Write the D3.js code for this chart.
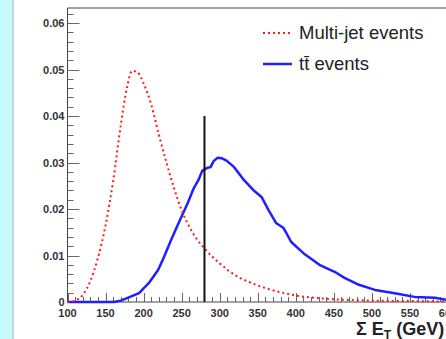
<!DOCTYPE html>
<html>
<head>
<meta charset="utf-8">
<script src="https://cdn.jsdelivr.net/npm/d3@7"></script>
<style>
  html, body { margin: 0; padding: 0; background: #fff; }
  svg { display: block; }
</style>
</head>
<body>
<div id="chart"></div>
<script>
// multi-jet (QCD) background shape
const multiJetX = [100, 110, 120, 130, 140, 150, 160, 170, 178, 185, 192, 200, 210, 220, 230, 240, 250, 260, 270, 280, 290, 300, 320, 340, 360, 380, 400, 425, 450, 500, 550, 600];
const multiJetY = [0, 0.0003, 0.0015, 0.0045, 0.0095, 0.0165, 0.026, 0.038, 0.046, 0.0497, 0.0494, 0.047, 0.0425, 0.036, 0.030, 0.0245, 0.0197, 0.0162, 0.0135, 0.0115, 0.0098, 0.0083, 0.0058, 0.0042, 0.0030, 0.0021, 0.0014, 0.0009, 0.0006, 0.0003, 0.0002, 0.0001];

// ttbar signal shape
const ttbarX = [100, 130, 161, 170, 179, 194, 207, 219, 225, 236, 246, 258, 266, 272, 277, 283, 288, 292, 297, 303, 309, 319, 332, 344, 355, 364, 374, 384, 394, 410, 431, 451, 464, 483, 504, 530, 556, 583, 600];
const ttbarY = [0, 0, 0, 0.0003, 0.0009, 0.0019, 0.0041, 0.0069, 0.009, 0.0133, 0.017, 0.0213, 0.0245, 0.0262, 0.0282, 0.0288, 0.029, 0.0303, 0.031, 0.0309, 0.0304, 0.029, 0.0262, 0.0241, 0.0226, 0.0198, 0.017, 0.0159, 0.0129, 0.0105, 0.008, 0.0065, 0.0052, 0.0037, 0.0026, 0.0019, 0.0011, 0.0009, 0.0004];

const cutValue = 280;
const cutHeight = 0.04;

const xTicks = [100, 150, 200, 250, 300, 350, 400, 450, 500, 550, 600];
const yTicks = [0, 0.01, 0.02, 0.03, 0.04, 0.05, 0.06];

const legendLabels = ["Multi-jet events", "t\u0074\u0304 events"];

const width = 446, height = 339;

const svg = d3.select("#chart").append("svg")
    .attr("width", width)
    .attr("height", height);

svg.append("rect").attr("width", width).attr("height", height).attr("fill", "#fff");
svg.append("rect").attr("x", 0).attr("y", 0).attr("width", 13).attr("height", height).attr("fill", "#c8fafd");
svg.append("line").attr("x1", 13).attr("x2", 13).attr("y1", 0).attr("y2", height)
    .attr("stroke", "#93bdbf").attr("stroke-width", 1);

const x = d3.scaleLinear().domain([100, 600]).range([67.5, 448]);
const y = d3.scaleLinear().domain([0, 0.06323]).range([302, 8]);

// frame
svg.append("line").attr("x1", x(100)).attr("x2", width).attr("y1", y.range()[1]).attr("y2", y.range()[1])
    .attr("stroke", "#444").attr("stroke-width", 1);
svg.append("line").attr("x1", x(100)).attr("x2", x(100)).attr("y1", y.range()[1]).attr("y2", y(0))
    .attr("stroke", "#444").attr("stroke-width", 1);
svg.append("line").attr("x1", x(100)).attr("x2", width).attr("y1", y(0)).attr("y2", y(0))
    .attr("stroke", "#444").attr("stroke-width", 1);

// y ticks: major every 0.01, minor every 0.002
const yMinor = d3.range(0, 0.0632, 0.002);
svg.append("g").selectAll("line").data(yMinor).join("line")
    .attr("x1", x(100))
    .attr("x2", (d, i) => x(100) + (i % 5 === 0 ? 12 : 6))
    .attr("y1", d => Math.round(y(d)) + 0.5)
    .attr("y2", d => Math.round(y(d)) + 0.5)
    .attr("stroke", "#666").attr("stroke-width", 1);

svg.append("g").selectAll("text").data(yTicks).join("text")
    .attr("x", x(100) - 3)
    .attr("y", d => y(d) + 4)
    .attr("text-anchor", "end")
    .attr("font-family", "Liberation Sans, Arial, sans-serif")
    .attr("font-weight", "bold")
    .attr("font-size", 11)
    .attr("fill", "#333")
    .text(d => d === 0 ? "0" : d3.format(".2f")(d));

// x ticks: major every 50, minor every 10
const xMinor = d3.range(100, 601, 10);
svg.append("g").selectAll("line").data(xMinor).join("line")
    .attr("x1", d => Math.round(x(d)) + 0.5)
    .attr("x2", d => Math.round(x(d)) + 0.5)
    .attr("y1", y(0))
    .attr("y2", d => y(0) - (d % 50 === 0 ? 9 : 5))
    .attr("stroke", "#666").attr("stroke-width", 1);

svg.append("g").selectAll("text").data(xTicks).join("text")
    .attr("x", d => x(d))
    .attr("y", y(0) + 15)
    .attr("text-anchor", "middle")
    .attr("font-family", "Liberation Sans, Arial, sans-serif")
    .attr("font-weight", "bold")
    .attr("font-size", 11)
    .attr("fill", "#333")
    .text(d => d);

// axis title
const title = svg.append("text")
    .attr("x", 356)
    .attr("y", 335)
    .attr("font-family", "Liberation Sans, Arial, sans-serif")
    .attr("font-weight", "bold")
    .attr("font-size", 18)
    .attr("fill", "#222");
title.append("tspan").text("\u03a3 E");
title.append("tspan").attr("font-size", 12).attr("dy", 4).text("T");
title.append("tspan").attr("dy", -4).text(" (GeV)");

const line = d3.line().x(d => x(d[0])).y(d => y(d[1]));

// curves
svg.append("path")
    .datum(ttbarX.map((v, i) => [v, ttbarY[i]]))
    .attr("d", line.curve(d3.curveLinear))
    .attr("fill", "none")
    .attr("stroke", "#1f1fff")
    .attr("stroke-width", 2.5)
    .attr("stroke-linejoin", "round");

svg.append("path")
    .datum(multiJetX.map((v, i) => [v, multiJetY[i]]))
    .attr("d", line.curve(d3.curveMonotoneX))
    .attr("fill", "none")
    .attr("stroke", "#ff1a1a")
    .attr("stroke-width", 2)
    .attr("stroke-dasharray", "2,3");

// cut line
svg.append("line")
    .attr("x1", x(cutValue)).attr("x2", x(cutValue))
    .attr("y1", y(0)).attr("y2", y(cutHeight))
    .attr("stroke", "#111").attr("stroke-width", 2);

// legend
const legend = svg.append("g");
const legendStyles = [
    { stroke: "#ff1a1a", dash: "2,3", w: 2 },
    { stroke: "#1f1fff", dash: null, w: 2.5 }
];
legendLabels.forEach((label, i) => {
    const ly = 33 + i * 31;
    legend.append("line")
        .attr("x1", 263).attr("x2", 292).attr("y1", ly).attr("y2", ly)
        .attr("stroke", legendStyles[i].stroke)
        .attr("stroke-width", legendStyles[i].w)
        .attr("stroke-dasharray", legendStyles[i].dash);
    legend.append("text")
        .attr("x", 299).attr("y", ly + 6)
        .attr("font-family", "Liberation Sans, Arial, sans-serif")
        .attr("font-size", 18.5)
        .attr("fill", "#222")
        .text(label);
});
</script>
</body>
</html>
